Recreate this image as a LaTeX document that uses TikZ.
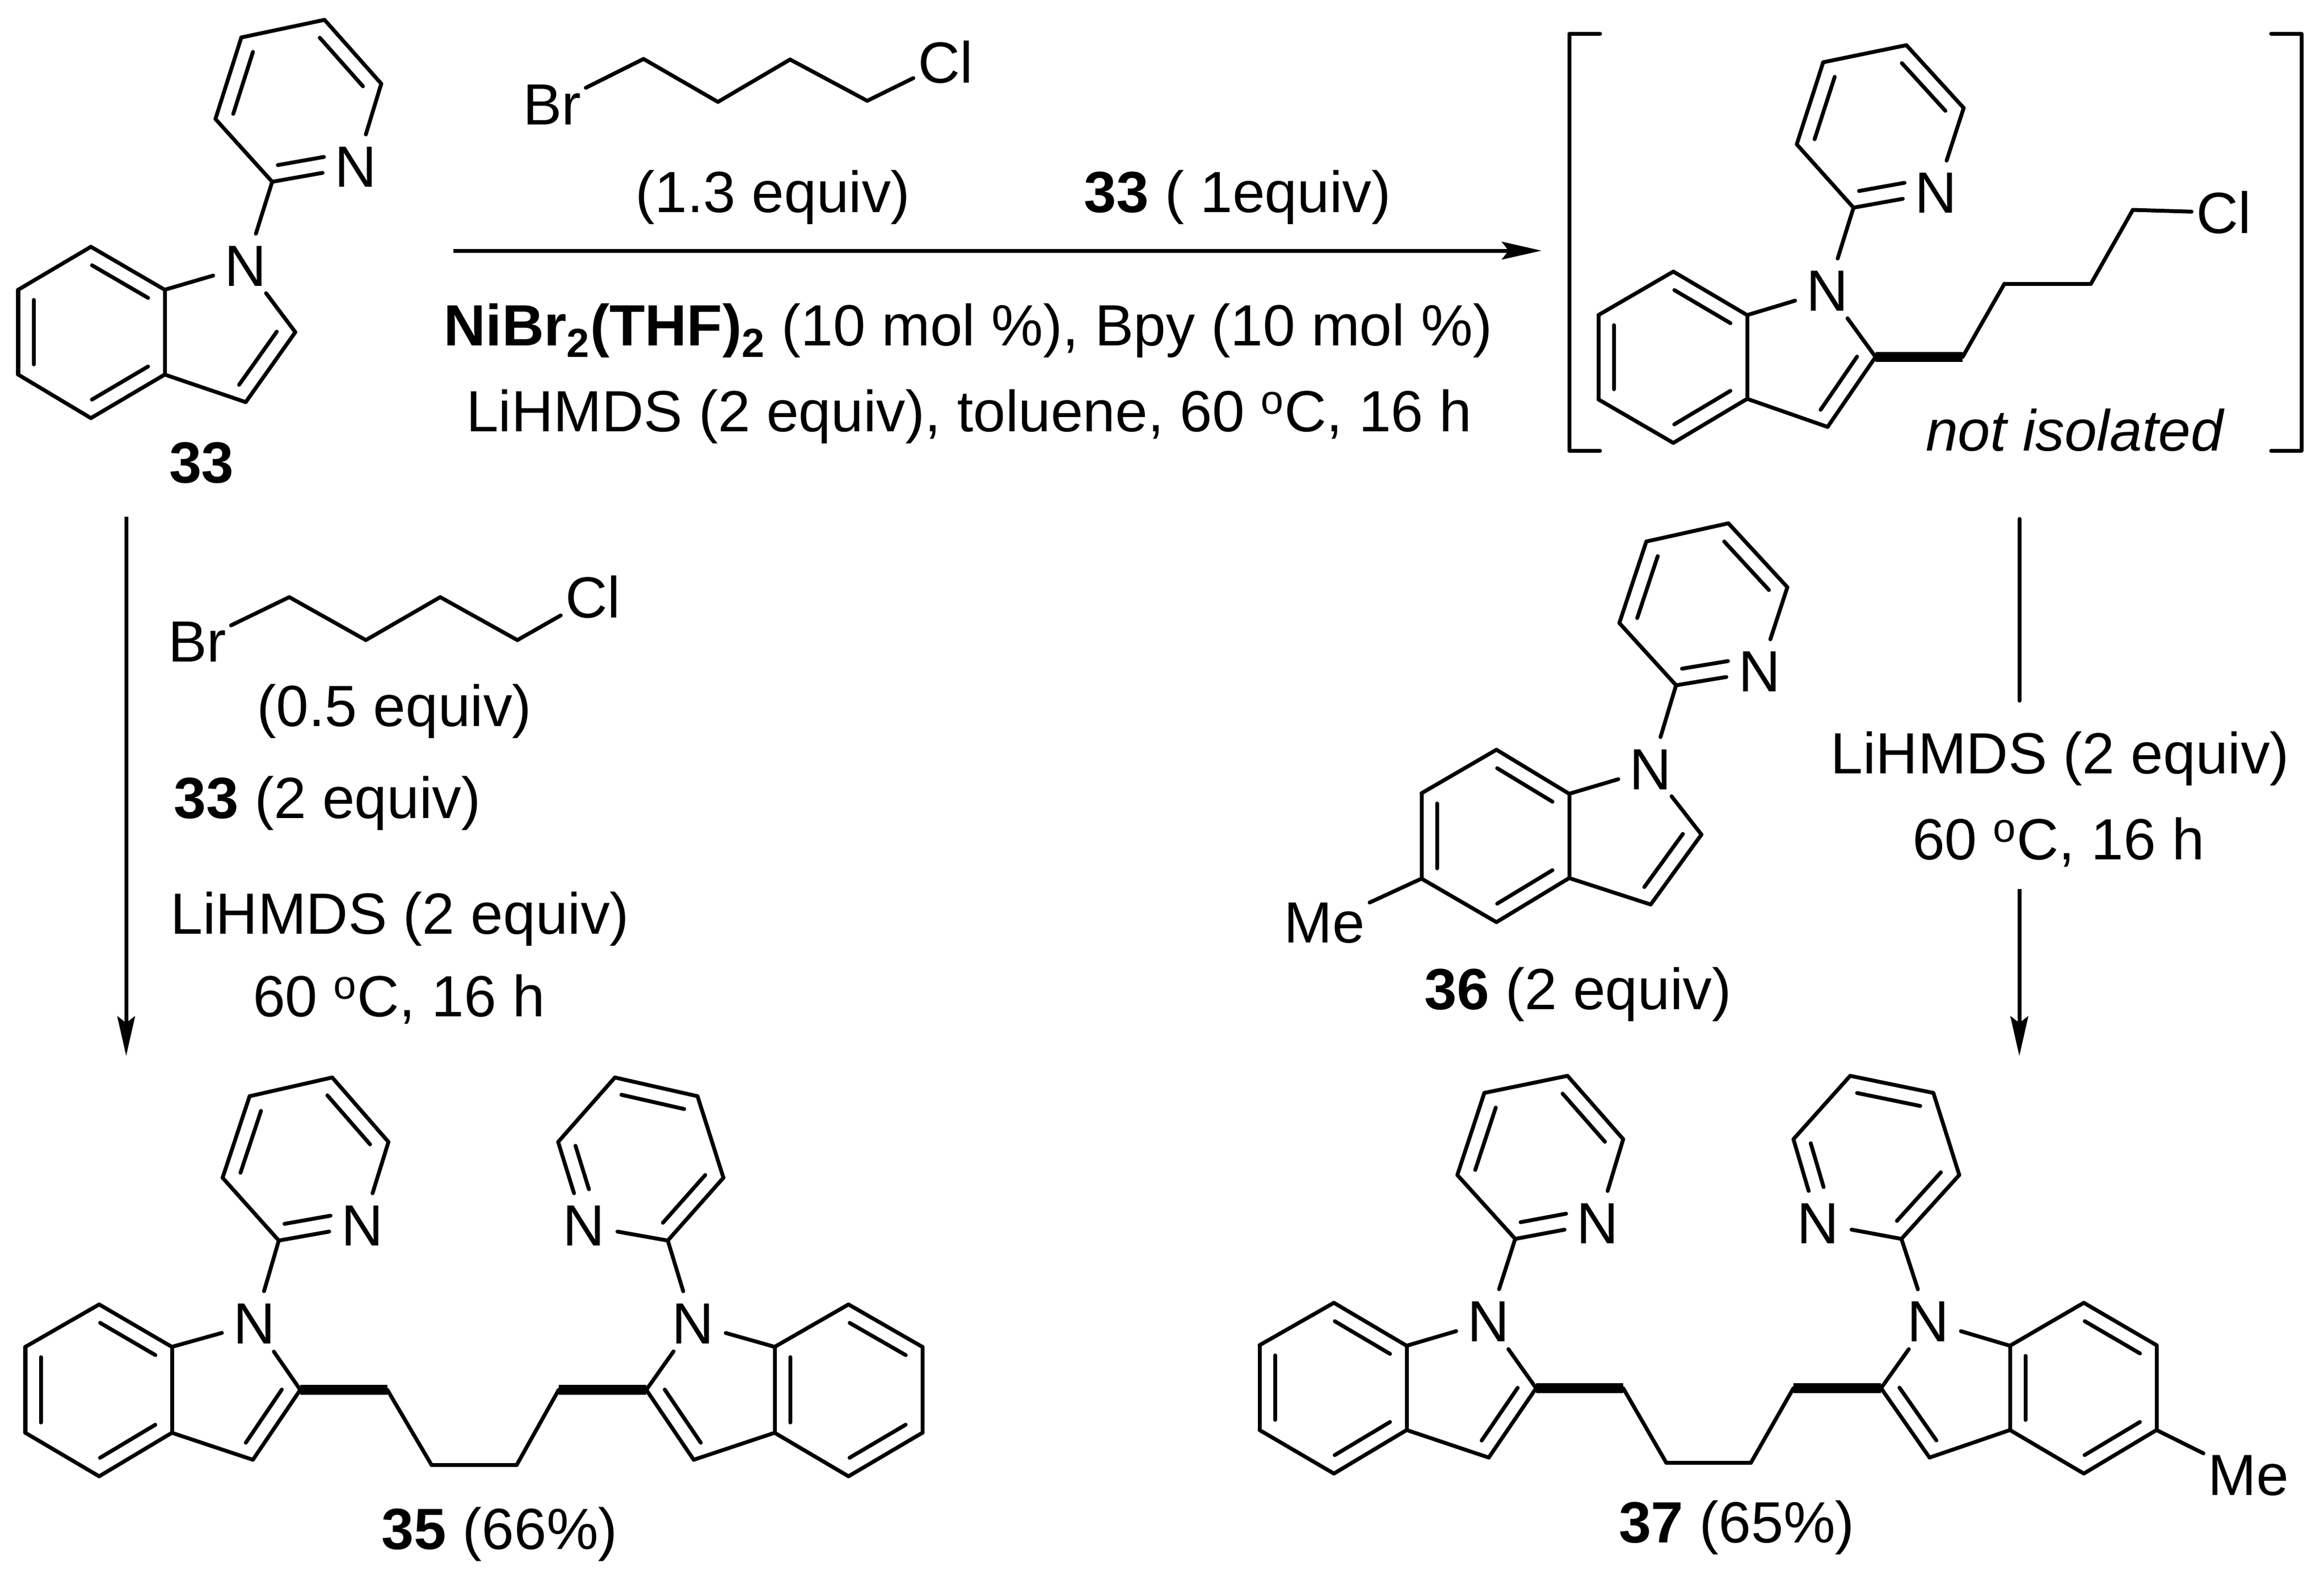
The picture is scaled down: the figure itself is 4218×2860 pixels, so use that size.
\documentclass[tikz,border=0pt]{standalone}
\usepackage{fontspec}
\setmainfont{Liberation Sans}
\usetikzlibrary{arrows.meta,calc}
\tikzset{
atom/.style={circle,inner sep=0pt,minimum size=1.16cm},
grp/.style={inner sep=.05cm},
lbl/.style={anchor=base,inner sep=0pt},
wedge/.style={line width=.18cm,line cap=butt},
rxn/.style={-{Stealth[length=.72cm,width=.32cm,inset=.12cm]},line cap=butt}
}
% ring atoms of one pyridyl indole: prefix, carbons, N, pyridine N
\newcommand{\unitpts}[4]{
\node[atom] (#1n) at #3 {N};
\node[atom] (#1pn) at #4 {N};
\foreach \nm/\xx/\yy in {#2}
\coordinate (#1\nm) at (\xx,\yy);
\foreach \from/\to in {b1/b2,b2/b3,b3/b4,b4/b5,b5/b6,b6/b1,b2/n,n/c2,c2/c3,c3/b3,n/p0,p0/pn,pn/p1,p1/p2,p2/p3,p3/p4,p4/p0}
\draw (#1\from) -- (#1\to);
}
\newcommand{\inbond}[4]{\draw ($(#1)!#3!(#2)!.28cm!-90:(#2)$) -- ($(#1)!#4!(#2)!.28cm!-90:(#2)$);}
% inner lines, unit with the pyridine to the right
\newcommand{\dblL}[1]{
\foreach \from/\to in {b1/b2,b3/b4,b5/b6,c2/c3,p4/p3,p2/p1}
\inbond{#1\from}{#1\to}{.12}{.88};
\inbond{#1pn}{#1p0}{.35}{.9};
}
% inner lines, mirrored unit
\newcommand{\dblR}[1]{
\foreach \from/\to in {b1/b6,b5/b4,b3/b2,c3/c2,p2/p3,p4/p0}
\inbond{#1\from}{#1\to}{.12}{.88};
\inbond{#1pn}{#1p1}{.38}{.9};
}
\begin{document}
\begin{tikzpicture}
[x=.01cm,y=-.01cm,line width=.07cm,line cap=round,line join=round,
every node/.style={font=\fontsize{30}{36}\selectfont}]
\useasboundingbox (0,0) rectangle (4218,2860);
% 33
\unitpts{a}{b1/165/448,b2/299/526,b3/299/680,b4/165/759,b5/33/680,b6/33/526,c2/536/603,c3/446/730,p0/494/330,p1/692/152,p2/589/36,p3/438/68,p4/391/216}{(446,483)}{(646,303)}
\dblL{a}
\node[lbl] (t33) at (366,876) {\textbf{33}};
% bromochlorobutane, top
\node[grp] (br1) at (1002,190) {Br};
\node[grp] (cl1) at (1716,113) {Cl};
\coordinate (k1) at (1168,107);
\coordinate (k2) at (1303,185);
\coordinate (k3) at (1434,108);
\coordinate (k4) at (1574,183);
\foreach \from/\to in {br1/k1,k1/k2,k2/k3,k3/k4,k4/cl1}
\draw (\from) -- (\to);
\node[lbl] (eq1) at (1403,385) {(1.3 equiv)};
\node[lbl] (eq2) at (2246,385) {\textbf{33} ( 1equiv)};
\coordinate (arrA) at (823,455);
\coordinate (arrB) at (2798,455);
\draw[rxn] (arrA) -- (arrB);
\node[lbl] (cond1) at (1757,627) {\textbf{NiBr\textsubscript{2}(THF)\textsubscript{2}} (10 mol \%), Bpy (10 mol \%)};
\node[lbl] (cond2) at (1759,783) {LiHMDS (2 equiv), toluene, 60 \textsuperscript{o}C, 16 h};
% intermediate
\draw (2904,61) -- (2848,61) -- (2848,818) -- (2904,818);
\draw (4122,61) -- (4177,61) -- (4177,818) -- (4122,818);
\unitpts{i}{b1/3037/493,b2/3171/572,b3/3171/724,b4/3037/804,b5/2901/725,b6/2901/572,c2/3404/648,c3/3317/775,p0/3364/377,p1/3564/196,p2/3460/82,p3/3309/113,p4/3261/262}{(3317,528)}{(3514,350)}
\dblL{i}
\node[grp] (cl2) at (4036,386) {Cl};
\coordinate (h1) at (3562,648);
\coordinate (h2) at (3638,515);
\coordinate (h3) at (3795,515);
\coordinate (h4) at (3871,381);
\draw[wedge] (ic2) -- (h1);
\foreach \from/\to in {h1/h2,h2/h3,h3/h4,h4/cl2}
\draw (\from) -- (\to);
\node[lbl] (iso) at (3765,818) {\itshape not isolated};
% left column
\coordinate (arrC) at (229,938);
\coordinate (arrD) at (229,1917);
\draw[rxn] (arrC) -- (arrD);
\node[grp] (br2) at (358,1165) {Br};
\node[grp] (cl3) at (1076,1084) {Cl};
\coordinate (m1) at (525,1084);
\coordinate (m2) at (664,1162);
\coordinate (m3) at (799,1084);
\coordinate (m4) at (939,1162);
\foreach \from/\to in {br2/m1,m1/m2,m2/m3,m3/m4,m4/cl3}
\draw (\from) -- (\to);
\node[lbl] (eq3) at (716,1318) {(0.5 equiv)};
\node[lbl] (eq4) at (594,1485) {\textbf{33} (2 equiv)};
\node[lbl] (cond3) at (726,1695) {LiHMDS (2 equiv)};
\node[lbl] (cond4) at (724,1845) {60 \textsuperscript{o}C, 16 h};
% 35
\unitpts{l}{b1/180/2368,b2/312/2445,b3/312/2601,b4/180/2680,b5/46/2601,b6/46/2445,c2/545/2523,c3/459/2650,p0/506/2252,p1/705/2073,p2/603/1956,p3/453/1990,p4/404/2138}{(462,2403)}{(658,2225)}
\dblL{l}
\unitpts{r}{b1/1540/2368,b2/1406/2445,b3/1406/2601,b4/1540/2680,b5/1674/2601,b6/1674/2445,c2/1173/2523,c3/1259/2650,p0/1212/2252,p1/1013/2073,p2/1116/1956,p3/1266/1990,p4/1313/2138}{(1258,2403)}{(1060,2225)}
\dblR{r}
\coordinate (q1) at (703,2523);
\coordinate (q2) at (783,2659);
\coordinate (q3) at (938,2659);
\coordinate (q4) at (1014,2523);
\draw[wedge] (lc2) -- (q1);
\draw[wedge] (rc2) -- (q4);
\foreach \from/\to in {q1/q2,q2/q3,q3/q4}
\draw (\from) -- (\to);
\node[lbl] (t35) at (907,2812) {\textbf{35} (66\%)};
% 36
\unitpts{s}{b1/2716/1361,b2/2848/1441,b3/2848/1594,b4/2716/1674,b5/2580/1595,b6/2580/1440,c2/3088/1515,c3/2996/1642,p0/3042/1244,p1/3244/1066,p2/3137/950,p3/2988/983,p4/2939/1131}{(2996,1397)}{(3194,1219)}
\dblL{s}
\node[grp] (me1) at (2404,1676) {Me};
\draw (me1) -- (sb5);
\node[lbl] (t36) at (2864,1832) {\textbf{36} (2 equiv)};
% right column
\coordinate (lnA) at (3665,942);
\coordinate (lnB) at (3665,1272);
\draw (lnA) -- (lnB);
\node[lbl] (cond5) at (3739,1404) {LiHMDS (2 equiv)};
\node[lbl] (cond6) at (3736,1560) {60 \textsuperscript{o}C, 16 h};
\coordinate (arrE) at (3665,1614);
\coordinate (arrF) at (3665,1917);
\draw[rxn] (arrE) -- (arrF);
% 37
\unitpts{u}{b1/2421/2365,b2/2553/2443,b3/2553/2596,b4/2421/2675,b5/2286/2596,b6/2286/2442,c2/2788/2520,c3/2702/2646,p0/2750/2249,p1/2946/2068,p2/2845/1953,p3/2694/1984,p4/2645/2133}{(2702,2399)}{(2900,2221)}
\dblL{u}
\unitpts{v}{b1/3782/2365,b2/3648/2443,b3/3648/2596,b4/3782/2675,b5/3914/2596,b6/3914/2442,c2/3414/2520,c3/3502/2646,p0/3451/2249,p1/3255/2068,p2/3358/1953,p3/3509/1984,p4/3556/2133}{(3500,2399)}{(3300,2221)}
\dblR{v}
\coordinate (w1) at (2946,2520);
\coordinate (w2) at (3024,2655);
\coordinate (w3) at (3178,2655);
\coordinate (w4) at (3255,2520);
\draw[wedge] (uc2) -- (w1);
\draw[wedge] (vc2) -- (w4);
\foreach \from/\to in {w1/w2,w2/w3,w3/w4}
\draw (\from) -- (\to);
\node[grp] (me2) at (4081,2679) {Me};
\draw (me2) -- (vb5);
\node[lbl] (t37) at (3152,2800) {\textbf{37} (65\%)};
\end{tikzpicture}
\end{document}
